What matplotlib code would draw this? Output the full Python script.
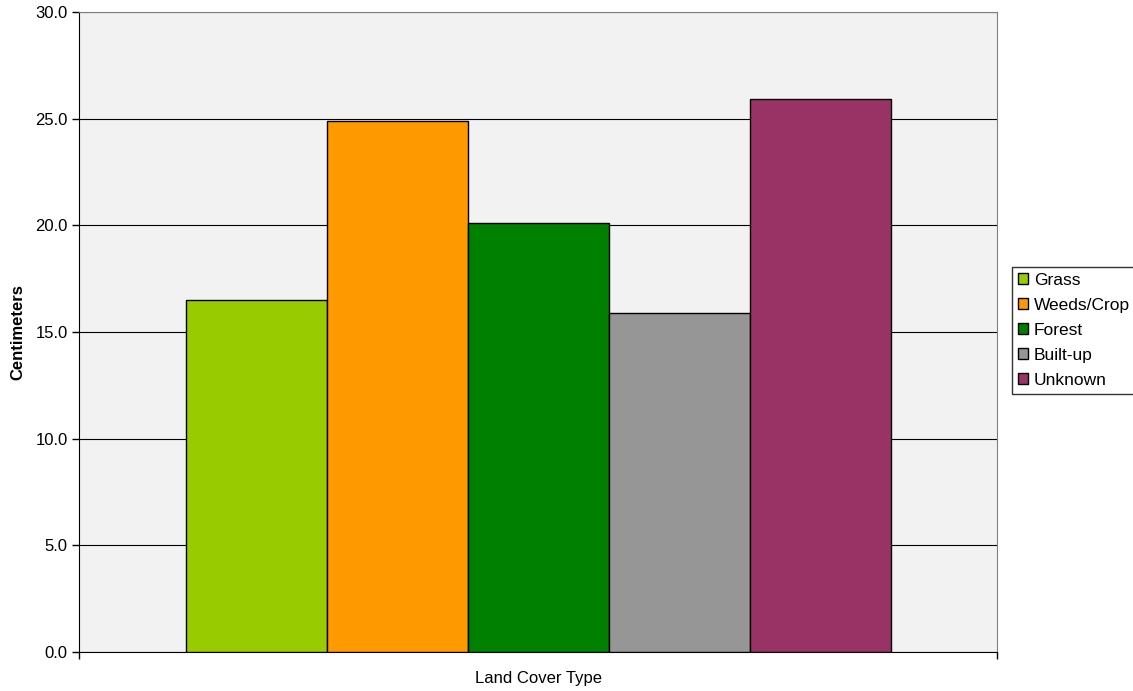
import numpy as np
import matplotlib.pyplot as plt
from matplotlib.patches import Patch

plt.rcParams['font.family'] = ['Liberation Sans', 'DejaVu Sans']

# data
land_cover = ['Grass', 'Weeds/Crop', 'Forest', 'Built-up', 'Unknown']
centimeters = [16.5, 24.9, 20.1, 15.9, 25.9]
colors = ['#99cc00', '#ff9900', '#008000', '#969696', '#993366']
y_ticks = [0, 5, 10, 15, 20, 25, 30]

fig = plt.figure(figsize=(11.33, 6.91), dpi=100)
ax = fig.add_axes([0.0697, 0.0564, 0.8106, 0.9262])
ax.set_facecolor('#f2f2f2')

w = 0.1536
offsets = (np.arange(len(land_cover)) - 2) * w
for x, v, c in zip(offsets, centimeters, colors):
    ax.bar(x, v, width=w, color=c, edgecolor='black', linewidth=1.0, zorder=3)

ax.set_xlim(-0.5, 0.5)
ax.set_ylim(0, 30)
ax.set_yticks(y_ticks)
ax.set_yticklabels(['%.1f' % t for t in y_ticks], fontsize=12)
ax.yaxis.grid(True, color='black', linewidth=0.8, zorder=1)
ax.set_axisbelow(True)

ax.set_xticks([-0.5, 0.5])
ax.set_xticklabels(['', ''])
ax.tick_params(axis='both', direction='out', length=5, width=1, color='black', pad=3)

for s in ['top', 'right']:
    ax.spines[s].set_color('#808080')
for s in ['left', 'bottom']:
    ax.spines[s].set_color('black')

ax.set_xlabel('Land Cover Type', fontsize=12, labelpad=6)
ax.set_ylabel('Centimeters', fontsize=12, fontweight='bold', labelpad=7)

handles = [Patch(facecolor=c, edgecolor='black', linewidth=1.0) for c in colors]
leg = fig.legend(handles, land_cover, loc='upper left', bbox_to_anchor=(0.8932, 0.6136),
                 fontsize=12.5, frameon=True, fancybox=False, edgecolor='black',
                 handlelength=0.6, handleheight=0.6, handletextpad=0.3,
                 labelspacing=0.57, borderpad=0.35, borderaxespad=0)
leg.get_frame().set_linewidth(1.0)

fig.savefig('out.png', dpi=100)
